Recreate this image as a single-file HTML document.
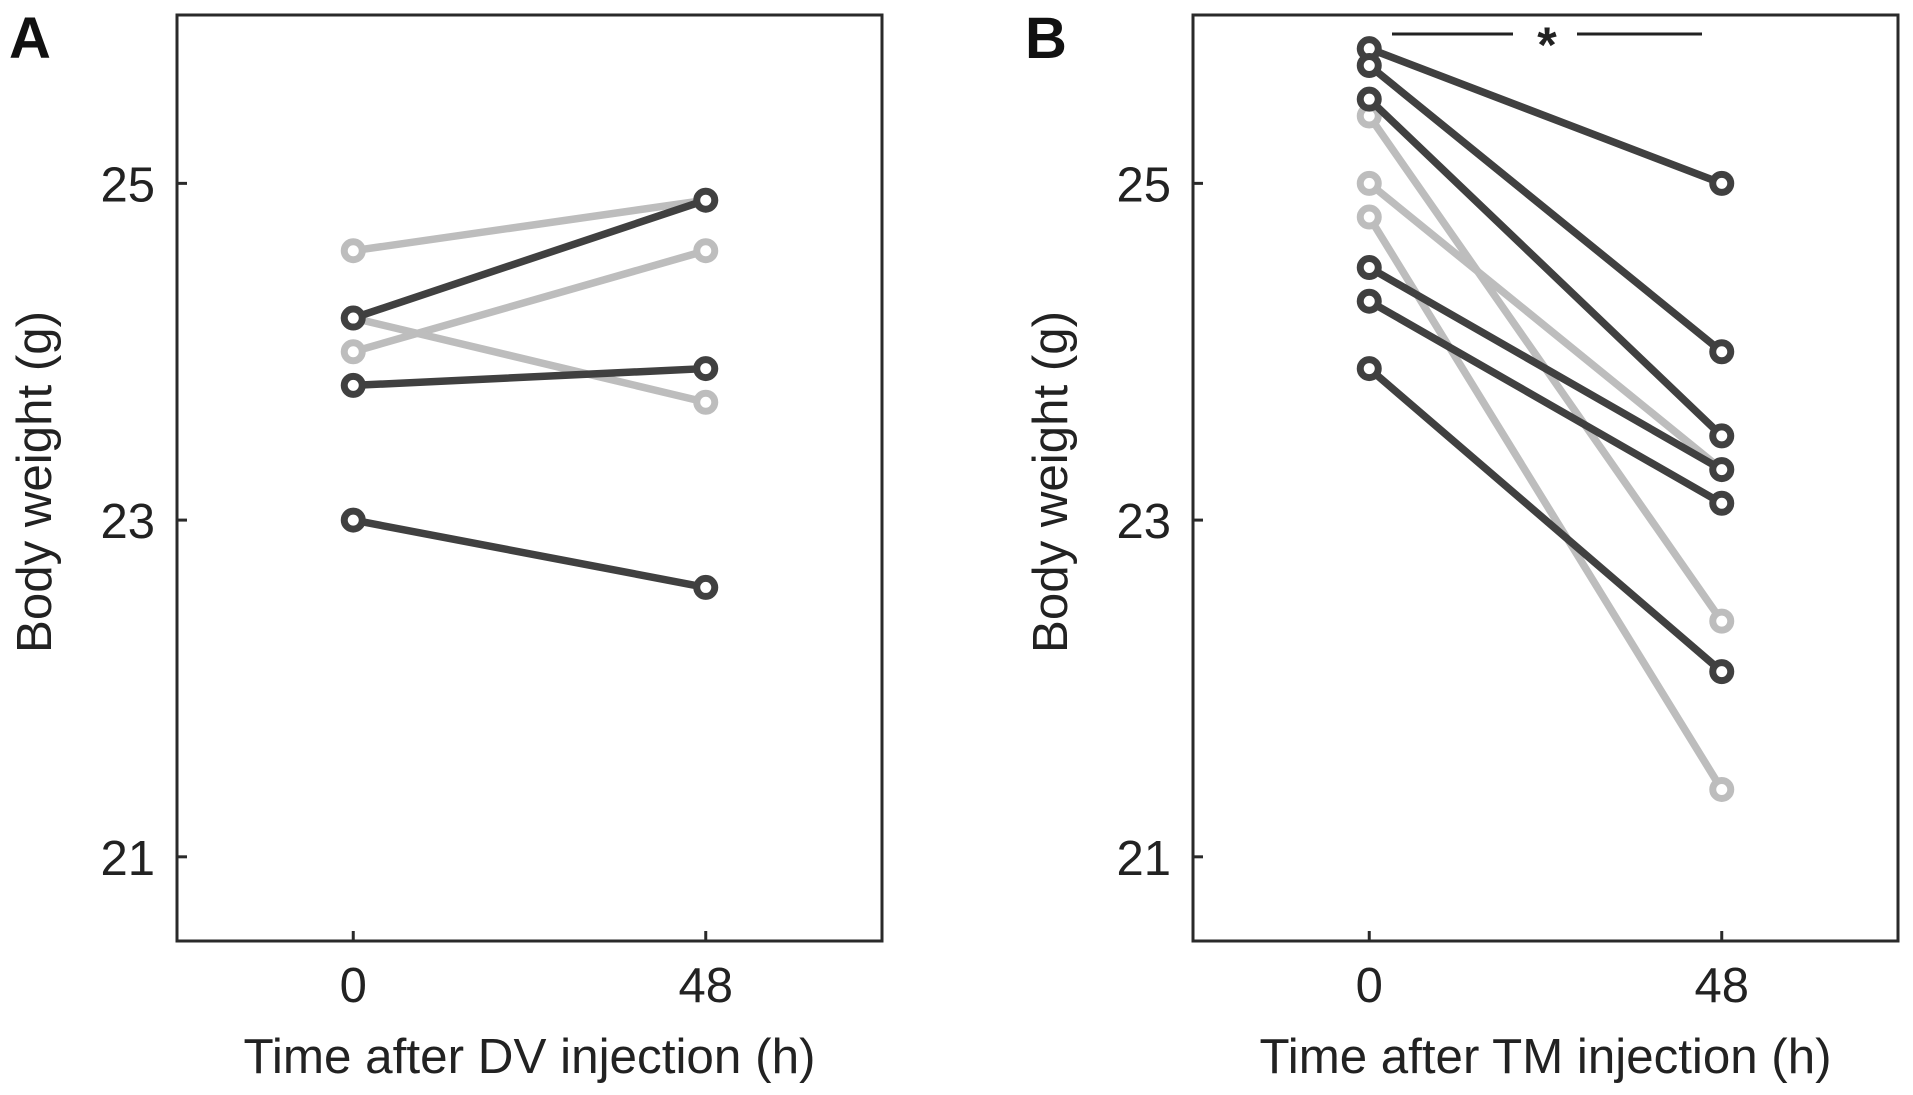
<!DOCTYPE html>
<html><head><meta charset="utf-8">
<style>
html,body{margin:0;padding:0;background:#fff;}
svg{display:block;font-family:"Liberation Sans",Arial,sans-serif;}
</style></head>
<body>
<svg id="chart" width="1913" height="1095" viewBox="0 0 1913 1095"></svg>
<script>
const timeCategories = [0, 48];
const yTickValues = [21, 23, 25];
const xTickLabels = ["0", "48"];
// Panel A (DV): [start, end] pairs
const dvGrayStart = [24.6, 24.0, 24.2];
const dvGrayEnd   = [24.9, 24.6, 23.7];
const dvDarkStart = [24.2, 23.8, 23.0];
const dvDarkEnd   = [24.9, 23.9, 22.6];
// Panel B (TM)
const tmGrayStart = [25.4, 25.0, 24.8];
const tmGrayEnd   = [22.4, 23.3, 21.4];
const tmDarkStart = [25.8, 25.7, 25.5, 24.5, 24.3, 23.9];
const tmDarkEnd   = [25.0, 24.0, 23.5, 23.3, 23.1, 22.1];

const NS = "http://www.w3.org/2000/svg";
const svg = document.getElementById('chart');
function mk(tag, attrs, parent){
  const e = document.createElementNS(NS, tag);
  for (const k in attrs) e.setAttribute(k, attrs[k]);
  (parent||svg).appendChild(e);
  return e;
}
const GRAY = "#bdbdbd", DARK = "#404040";

function panel(opt){
  const g = mk('g', {});
  
  
  const L = opt.left, R = opt.left + 705, T = 15, B = 941;
  const yDom = [20.5, 26.0], xDom = [-24, 72];
  const ys = v => B - (v - yDom[0]) / (yDom[1] - yDom[0]) * (B - T);
  const xs = v => L + (v - xDom[0]) / (xDom[1] - xDom[0]) * (R - L);

  function drawSeries(starts, ends, color, label){
    starts.forEach((s, i) => {
      const sg = mk('g', {}, g);
      
      
      const ln = mk('line', {x1: xs(timeCategories[0]), y1: ys(s), x2: xs(timeCategories[1]), y2: ys(ends[i]), stroke: color, 'stroke-width': 7.5, 'stroke-linecap': 'round'}, sg);
      
      
      [s, ends[i]].forEach((v, j) => {
        const c = mk('circle', {cx: xs(timeCategories[j]), cy: ys(v), r: 9, fill: '#fff', stroke: color, 'stroke-width': 7}, sg);
        
        
      });
    });
  }
  drawSeries(opt.grayS, opt.grayE, GRAY, 'control-mouse');
  drawSeries(opt.darkS, opt.darkE, DARK, 'treated-mouse');

  const fr = mk('rect', {x: L, y: T, width: R - L, height: B - T, fill: 'none', stroke: '#2a2a2a', 'stroke-width': 3}, g);
  
  

  yTickValues.forEach(v => {
    const t = mk('line', {x1: L, x2: L + 10, y1: ys(v), y2: ys(v), stroke: '#2a2a2a', 'stroke-width': 3}, g);
    
    
    const tx = mk('text', {x: L - 22, y: ys(v) + 18, 'text-anchor': 'end', 'font-size': 49, fill: '#222'}, g);
    tx.textContent = String(v);
    
    
  });
  timeCategories.forEach((v, i) => {
    const t = mk('line', {x1: xs(v), x2: xs(v), y1: B, y2: B - 10, stroke: '#2a2a2a', 'stroke-width': 3}, g);
    
    
    const tx = mk('text', {x: xs(v), y: 1002, 'text-anchor': 'middle', 'font-size': 49, fill: '#222'}, g);
    tx.textContent = xTickLabels[i];
    
    
  });
  const xt = mk('text', {x: (L + R) / 2, y: 1073, 'text-anchor': 'middle', 'font-size': 49, fill: '#222', textLength: 572, lengthAdjust: 'spacingAndGlyphs'}, g);
  xt.textContent = opt.xTitle;
  
  
  const yt = mk('text', {x: 0, y: 0, 'text-anchor': 'middle', 'font-size': 49, fill: '#222', textLength: 342, lengthAdjust: 'spacingAndGlyphs', transform: 'translate(' + (L - 126) + ',482) rotate(-90)'}, g);
  yt.textContent = 'Body weight (g)';
  
  
  const lt = mk('text', {x: L - 168, y: 58, 'font-size': 58, 'font-weight': 'bold', fill: '#111'}, g);
  lt.textContent = opt.letter;
  
  
  return g;
}

panel({name: 'panel-a-dv', left: 177, letter: 'A', xTitle: 'Time after DV injection (h)',
  grayS: dvGrayStart, grayE: dvGrayEnd, darkS: dvDarkStart, darkE: dvDarkEnd});
const pb = panel({name: 'panel-b-tm', left: 1193, letter: 'B', xTitle: 'Time after TM injection (h)',
  grayS: tmGrayStart, grayE: tmGrayEnd, darkS: tmDarkStart, darkE: tmDarkEnd});

const sig = mk('g', {}, pb);


mk('line', {x1: 1392, x2: 1513, y1: 34, y2: 34, stroke: '#222', 'stroke-width': 3}, sig);
mk('line', {x1: 1577, x2: 1702, y1: 34, y2: 34, stroke: '#222', 'stroke-width': 3}, sig);
const st = mk('text', {x: 1547, y: 62, 'text-anchor': 'middle', 'font-size': 50, 'font-weight': 'bold', fill: '#222'}, sig);
st.textContent = '*';
</script>
</body></html>
